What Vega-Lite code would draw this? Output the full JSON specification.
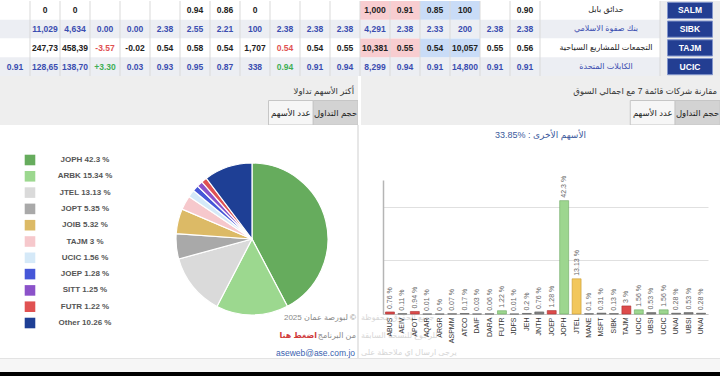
{
  "$schema": "https://vega.github.io/schema/vega-lite/v6.json",
  "padding": 0,
  "background": "#ffffff",
  "spacing": 0,
  "bounds": "flush",
  "resolve": {"scale": {"color": "independent", "fill": "independent", "stroke": "independent", "x": "independent", "y": "independent"}},
  "config": {"view": {"stroke": null}, "font": "Liberation Sans, DejaVu Sans"},
  "datasets": {
    "stocks": [
      {"r": 1, "code": "SALM", "name": "حدائق بابل", "tone": "plain"},
      {"r": 2, "code": "SIBK", "name": "بنك صفوة الاسلامي", "tone": "alt"},
      {"r": 3, "code": "TAJM", "name": "التجمعات للمشاريع السياحية", "tone": "plain"},
      {"r": 4, "code": "UCIC", "name": "الكابلات المتحدة", "tone": "alt"}
    ],
    "cells": [
      {"r": 1, "c": 1, "v": "0", "tone": "plain"},
      {"r": 1, "c": 2, "v": "0", "tone": "plain"},
      {"r": 1, "c": 6, "v": "0.94", "tone": "plain"},
      {"r": 1, "c": 7, "v": "0.86", "tone": "plain"},
      {"r": 1, "c": 8, "v": "0", "tone": "plain"},
      {"r": 1, "c": 12, "v": "1,000", "tone": "plain", "bg": "bid"},
      {"r": 1, "c": 13, "v": "0.91", "tone": "plain", "bg": "bid"},
      {"r": 1, "c": 14, "v": "0.85", "tone": "plain", "bg": "ask"},
      {"r": 1, "c": 15, "v": "100", "tone": "plain", "bg": "ask"},
      {"r": 1, "c": 17, "v": "0.90", "tone": "plain"},
      {"r": 2, "c": 1, "v": "11,029", "tone": "alt"},
      {"r": 2, "c": 2, "v": "4,634", "tone": "alt"},
      {"r": 2, "c": 3, "v": "0.00", "tone": "alt"},
      {"r": 2, "c": 4, "v": "0.00", "tone": "alt"},
      {"r": 2, "c": 5, "v": "2.38", "tone": "alt"},
      {"r": 2, "c": 6, "v": "2.55", "tone": "alt"},
      {"r": 2, "c": 7, "v": "2.21", "tone": "alt"},
      {"r": 2, "c": 8, "v": "100", "tone": "alt"},
      {"r": 2, "c": 9, "v": "2.38", "tone": "alt"},
      {"r": 2, "c": 10, "v": "2.38", "tone": "alt"},
      {"r": 2, "c": 11, "v": "2.38", "tone": "alt"},
      {"r": 2, "c": 12, "v": "4,291", "tone": "alt"},
      {"r": 2, "c": 13, "v": "2.38", "tone": "alt"},
      {"r": 2, "c": 14, "v": "2.33", "tone": "alt"},
      {"r": 2, "c": 15, "v": "200", "tone": "alt"},
      {"r": 2, "c": 16, "v": "2.38", "tone": "alt"},
      {"r": 2, "c": 17, "v": "2.38", "tone": "alt"},
      {"r": 3, "c": 1, "v": "247,73", "tone": "plain"},
      {"r": 3, "c": 2, "v": "458,39", "tone": "plain"},
      {"r": 3, "c": 3, "v": "-3.57", "tone": "down"},
      {"r": 3, "c": 4, "v": "-0.02", "tone": "plain"},
      {"r": 3, "c": 5, "v": "0.54", "tone": "plain"},
      {"r": 3, "c": 6, "v": "0.58", "tone": "plain"},
      {"r": 3, "c": 7, "v": "0.54", "tone": "plain"},
      {"r": 3, "c": 8, "v": "1,707", "tone": "plain"},
      {"r": 3, "c": 9, "v": "0.54", "tone": "down"},
      {"r": 3, "c": 10, "v": "0.54", "tone": "plain"},
      {"r": 3, "c": 11, "v": "0.55", "tone": "plain"},
      {"r": 3, "c": 12, "v": "10,381", "tone": "plain", "bg": "bid"},
      {"r": 3, "c": 13, "v": "0.55", "tone": "plain", "bg": "bid"},
      {"r": 3, "c": 14, "v": "0.54", "tone": "plain", "bg": "ask"},
      {"r": 3, "c": 15, "v": "10,057", "tone": "plain", "bg": "ask"},
      {"r": 3, "c": 16, "v": "0.55", "tone": "plain"},
      {"r": 3, "c": 17, "v": "0.56", "tone": "plain"},
      {"r": 4, "c": 0, "v": "0.91", "tone": "alt"},
      {"r": 4, "c": 1, "v": "128,65", "tone": "alt"},
      {"r": 4, "c": 2, "v": "138,70", "tone": "alt"},
      {"r": 4, "c": 3, "v": "+3.30", "tone": "up"},
      {"r": 4, "c": 4, "v": "0.03", "tone": "alt"},
      {"r": 4, "c": 5, "v": "0.93", "tone": "alt"},
      {"r": 4, "c": 6, "v": "0.95", "tone": "alt"},
      {"r": 4, "c": 7, "v": "0.87", "tone": "alt"},
      {"r": 4, "c": 8, "v": "338", "tone": "alt"},
      {"r": 4, "c": 9, "v": "0.94", "tone": "up"},
      {"r": 4, "c": 10, "v": "0.91", "tone": "alt"},
      {"r": 4, "c": 11, "v": "0.94", "tone": "alt"},
      {"r": 4, "c": 12, "v": "8,299", "tone": "alt"},
      {"r": 4, "c": 13, "v": "0.94", "tone": "alt"},
      {"r": 4, "c": 14, "v": "0.91", "tone": "alt"},
      {"r": 4, "c": 15, "v": "14,800", "tone": "alt"},
      {"r": 4, "c": 16, "v": "0.91", "tone": "alt"},
      {"r": 4, "c": 17, "v": "0.91", "tone": "alt"}
    ],
    "pie": [
      {"code": "JOPH", "pct": 42.3, "rank": 1},
      {"code": "ARBK", "pct": 15.34, "rank": 2},
      {"code": "JTEL", "pct": 13.13, "rank": 3},
      {"code": "JOPT", "pct": 5.35, "rank": 4},
      {"code": "JOIB", "pct": 5.32, "rank": 5},
      {"code": "TAJM", "pct": 3, "rank": 6},
      {"code": "UCIC", "pct": 1.56, "rank": 7},
      {"code": "JOEP", "pct": 1.28, "rank": 8},
      {"code": "SITT", "pct": 1.25, "rank": 9},
      {"code": "FUTR", "pct": 1.22, "rank": 10},
      {"code": "Other", "pct": 10.26, "rank": 11}
    ],
    "bars": [
      {"key": "ABUS", "pct": 0.76, "move": "down"},
      {"key": "AEIV", "pct": 0.11, "move": "none"},
      {"key": "APOT", "pct": 0.94, "move": "down"},
      {"key": "AQAR", "pct": 0.01, "move": "none"},
      {"key": "ARGR", "pct": 0, "move": "none"},
      {"key": "ASPMM", "pct": 0.07, "move": "none"},
      {"key": "ATCO", "pct": 0.17, "move": "none"},
      {"key": "DAIF", "pct": 0.03, "move": "none"},
      {"key": "DARA", "pct": 0.06, "move": "none"},
      {"key": "FUTR", "pct": 1.22, "move": "up"},
      {"key": "JDFS", "pct": 0.01, "move": "none"},
      {"key": "JEH", "pct": 0.2, "move": "none"},
      {"key": "JNTH", "pct": 0.76, "move": "none"},
      {"key": "JOEP", "pct": 1.28, "move": "down"},
      {"key": "JOPH", "pct": 42.3, "move": "up"},
      {"key": "JTEL", "pct": 13.13, "move": "flat"},
      {"key": "MANE", "pct": 0.1, "move": "none"},
      {"key": "MSFT", "pct": 0.31, "move": "none"},
      {"key": "SIBK", "pct": 0.13, "move": "none"},
      {"key": "TAJM", "pct": 3, "move": "down"},
      {"key": "UCIC", "pct": 1.56, "move": "up"},
      {"key": "UBSI", "pct": 0.53, "move": "none"},
      {"key": "UCIC|2", "pct": 1.56, "move": "up"},
      {"key": "UNAI", "pct": 0.28, "move": "none"},
      {"key": "UBSI|2", "pct": 0.53, "move": "none"},
      {"key": "UNAI|2", "pct": 0.28, "move": "none"}
    ],
    "footer": [
      {"line": 1, "part": "muted", "t": "2025 لبورصة عمان ©"},
      {"line": 1, "part": "faded", "t": "جميع الحقوق محفوظة"},
      {"line": 2, "part": "muted", "t": "من البرنامج"},
      {"line": 2, "part": "link", "t": "اضغط هنا"},
      {"line": 2, "part": "faded", "t": "للرجوع للنسخة السابقة"},
      {"line": 3, "part": "mail", "t": "aseweb@ase.com.jo"},
      {"line": 3, "part": "faded", "t": "يرجى ارسال اي ملاحظة على"}
    ]
  },
  "vconcat": [
    {
      "width": 720,
      "height": 75,
      "view": {"fill": "#ffffff", "stroke": null},
      "layer": [
        {
          "data": {"name": "stocks"},
          "mark": {"type": "rect", "clip": true},
          "encoding": {
            "y": {"field": "r", "type": "ordinal", "scale": {"domain": [1, 2, 3, 4], "paddingInner": 0, "paddingOuter": 0}, "axis": null},
            "fill": {"field": "tone", "type": "nominal", "scale": {"domain": ["plain", "alt", "bid", "ask"], "range": ["#ffffff", "#eceef3", "#f8cdd0", "#c9dcf7"]}, "legend": null}
          }
        },
        {
          "data": {"values": [{"c": 22}, {"c": 23}]},
          "mark": {"type": "rect", "fill": "#ededed", "clip": true},
          "encoding": {
            "x": {"field": "c", "type": "ordinal", "scale": {"domain": [0,1,2,3,4,5,6,7,8,9,10,11,12,13,14,15,16,17,18,19,20,21,22,23], "paddingInner": 0, "paddingOuter": 0}, "axis": null}
          }
        },
        {
          "data": {"name": "cells"},
          "transform": [{"filter": "datum.bg"}],
          "mark": {"type": "rect", "clip": true},
          "encoding": {
            "x": {"field": "c", "type": "ordinal"},
            "y": {"field": "r", "type": "ordinal"},
            "fill": {"field": "bg", "type": "nominal", "scale": {"domain": ["plain", "alt", "bid", "ask"], "range": ["#ffffff", "#eceef3", "#f8cdd0", "#c9dcf7"]}, "legend": null}
          }
        },
        {
          "data": {"values": [{"c": 1},{"c": 2},{"c": 3},{"c": 4},{"c": 5},{"c": 6},{"c": 7},{"c": 8},{"c": 9},{"c": 10},{"c": 11},{"c": 12},{"c": 13},{"c": 14},{"c": 15},{"c": 16},{"c": 17},{"c": 18},{"c": 22}]},
          "mark": {"type": "rule", "color": "#d9d9d9", "strokeWidth": 1, "clip": true},
          "encoding": {"x": {"field": "c", "type": "ordinal", "bandPosition": 0}}
        },
        {
          "data": {"name": "cells"},
          "mark": {"type": "text", "fontSize": 8.5, "fontWeight": "bold"},
          "encoding": {
            "x": {"field": "c", "type": "ordinal"},
            "y": {"field": "r", "type": "ordinal"},
            "text": {"field": "v"},
            "color": {"field": "tone", "type": "nominal", "scale": {"domain": ["plain", "alt", "down", "up"], "range": ["#222222", "#3a4db0", "#e05252", "#3fae55"]}, "legend": null}
          }
        },
        {
          "data": {"name": "stocks"},
          "mark": {"type": "text", "fontSize": 8, "dx": 6},
          "encoding": {
            "x": {"datum": 20, "type": "ordinal", "bandPosition": 0},
            "y": {"field": "r", "type": "ordinal"},
            "text": {"field": "name"},
            "color": {"field": "tone", "type": "nominal", "legend": null}
          }
        },
        {
          "data": {"name": "stocks"},
          "mark": {"type": "point", "shape": "M-1,-0.36H1V0.36H-1Z", "size": 2025, "filled": true, "fill": "#233e92", "stroke": "#8396cc", "strokeWidth": 1, "opacity": 1},
          "encoding": {
            "x": {"datum": 23, "type": "ordinal", "bandPosition": 0},
            "y": {"field": "r", "type": "ordinal"}
          }
        },
        {
          "data": {"name": "stocks"},
          "mark": {"type": "text", "fontSize": 8.5, "fontWeight": "bold", "color": "#ffffff"},
          "encoding": {
            "x": {"datum": 23, "type": "ordinal", "bandPosition": 0},
            "y": {"field": "r", "type": "ordinal"},
            "text": {"field": "code"}
          }
        }
      ]
    },
    {
      "hconcat": [
        {
          "width": 358,
          "height": 49,
          "view": {"fill": "#eeeeee", "stroke": null},
          "layer": [
            {
              "data": {"values": [{"row": "title", "t": "أكثر الأسهم تداولا"}]},
              "mark": {"type": "text", "align": "right", "dx": -4, "dy": 3, "fontSize": 8.5, "color": "#333333"},
              "encoding": {
                "x": {"value": "width"},
                "y": {"field": "row", "type": "nominal", "scale": {"domain": ["title", "tabs"], "paddingInner": 0, "paddingOuter": 0}, "axis": null},
                "text": {"field": "t"}
              }
            },
            {
              "data": {"values": [{"row": "tabs", "tab": "عدد الأسهم", "state": "idle"}, {"row": "tabs", "tab": "حجم التداول", "state": "active"}]},
              "layer": [
                {
                  "mark": {"type": "rect", "stroke": "#c6c6c6", "strokeWidth": 1, "clip": true},
                  "encoding": {
                    "x": {"field": "tab", "type": "nominal", "scale": {"domain": ["s1", "s2", "s3", "s4", "s5", "s6", "عدد الأسهم", "حجم التداول"], "paddingInner": 0, "paddingOuter": 0}, "axis": null},
                    "y": {"field": "row", "type": "nominal"},
                    "fill": {"field": "state", "type": "nominal", "scale": {"domain": ["idle", "active"], "range": ["#f6f6f6", "#d3d3d3"]}, "legend": null}
                  }
                },
                {
                  "mark": {"type": "text", "fontSize": 8.5, "color": "#222222"},
                  "encoding": {
                    "x": {"field": "tab", "type": "nominal"},
                    "y": {"field": "row", "type": "nominal"},
                    "text": {"field": "tab"}
                  }
                }
              ]
            }
          ]
        },
        {
          "width": 359,
          "height": 49,
          "view": {"fill": "#eeeeee", "stroke": null},
          "layer": [
            {
              "data": {"values": [{"row": "title", "t": "مقارنة شركات قائمة 7 مع اجمالي السوق"}]},
              "mark": {"type": "text", "align": "right", "dx": -3, "dy": 3, "fontSize": 8.5, "color": "#333333"},
              "encoding": {
                "x": {"value": "width"},
                "y": {"field": "row", "type": "nominal", "scale": {"domain": ["title", "tabs"], "paddingInner": 0, "paddingOuter": 0}, "axis": null},
                "text": {"field": "t"}
              }
            },
            {
              "data": {"values": [{"row": "tabs", "tab": "عدد الأسهم", "state": "idle"}, {"row": "tabs", "tab": "حجم التداول", "state": "active"}]},
              "layer": [
                {
                  "mark": {"type": "rect", "stroke": "#c6c6c6", "strokeWidth": 1, "clip": true},
                  "encoding": {
                    "x": {"field": "tab", "type": "nominal", "scale": {"domain": ["s1", "s2", "s3", "s4", "s5", "s6", "عدد الأسهم", "حجم التداول"], "paddingInner": 0, "paddingOuter": 0}, "axis": null},
                    "y": {"field": "row", "type": "nominal"},
                    "fill": {"field": "state", "type": "nominal", "scale": {"domain": ["idle", "active"], "range": ["#f6f6f6", "#d3d3d3"]}, "legend": null}
                  }
                },
                {
                  "mark": {"type": "text", "fontSize": 8.5, "color": "#222222"},
                  "encoding": {
                    "x": {"field": "tab", "type": "nominal"},
                    "y": {"field": "row", "type": "nominal"},
                    "text": {"field": "tab"}
                  }
                }
              ]
            }
          ]
        }
      ],
      "spacing": 3,
      "bounds": "flush",
      "resolve": {"scale": {"color": "independent", "fill": "independent", "stroke": "independent", "x": "independent", "y": "independent"}}
    },
    {
      "width": 720,
      "height": 49,
      "data": {"values": [{}]},
      "mark": {"type": "text"},
      "encoding": {"text": {"value": ""}}
    },
    {
      "hconcat": [
        {
          "width": 121,
          "height": 233,
          "data": {"name": "pie"},
          "layer": [
            {
              "mark": {"type": "point", "shape": "square", "filled": true, "size": 112, "opacity": 1},
              "encoding": {
                "x": {"datum": "sw", "type": "nominal", "scale": {"type": "point", "domain": ["sw", "lb"], "padding": 0.6, "align": 0.4545, "round": false}, "axis": null},
                "y": {"field": "rank", "type": "quantitative", "scale": {"domain": [-1.147, 13.147], "reverse": true, "zero": false, "nice": false}, "axis": null},
                "color": {"field": "code", "type": "nominal", "scale": {"domain": ["JOPH","ARBK","JTEL","JOPT","JOIB","TAJM","UCIC","JOEP","SITT","FUTR","Other"], "range": ["#66ac5d","#9cd88f","#dadada","#a9a9a9","#dcba66","#f6c8cc","#d5e9f8","#4657d8","#8b52c9","#e05252","#1e3f95"]}, "legend": null}
              }
            },
            {
              "mark": {"type": "text", "fontSize": 8, "fontWeight": "bold", "color": "#555555", "text": {"expr": "datum.code + ' ' + datum.pct + ' %'"}},
              "encoding": {
                "x": {"datum": "lb", "type": "nominal"},
                "y": {"field": "rank", "type": "quantitative"}
              }
            }
          ]
        },
        {
          "width": 212,
          "height": 228,
          "layer": [
            {
              "data": {"name": "pie"},
              "mark": {"type": "arc", "radius": 76, "stroke": "#ffffff", "strokeWidth": 1.2},
              "encoding": {
                "theta": {"field": "pct", "type": "quantitative", "stack": true},
                "order": {"field": "rank", "type": "quantitative"},
                "color": {"field": "code", "type": "nominal", "scale": {"domain": ["JOPH","ARBK","JTEL","JOPT","JOIB","TAJM","UCIC","JOEP","SITT","FUTR","Other"], "range": ["#66ac5d","#9cd88f","#dadada","#a9a9a9","#dcba66","#f6c8cc","#d5e9f8","#4657d8","#8b52c9","#e05252","#1e3f95"]}, "legend": null}
              }
            },
            {
              "data": {"values": [{"edge": "panel"}]},
              "mark": {"type": "rule", "color": "#cfcfcf", "strokeWidth": 1, "y2Offset": 5},
              "encoding": {"x": {"value": "width"}, "y": {"value": 0}, "y2": {"value": "height"}}
            },
            {
              "data": {"name": "footer"},
              "transform": [{"filter": "datum.part == 'faded'"}],
              "mark": {"type": "text", "align": "left", "dx": 3, "fontSize": 8, "color": "#d6d6d6"},
              "encoding": {
                "x": {"value": "width"},
                "y": {"field": "line", "type": "quantitative", "scale": {"domain": [-10.03, 3], "reverse": true, "zero": false, "nice": false}, "axis": null},
                "text": {"field": "t"}
              }
            },
            {
              "data": {"name": "footer"},
              "transform": [{"filter": "datum.part == 'muted'"}],
              "mark": {"type": "text", "align": "right", "dx": -2, "fontSize": 8, "color": "#8a8a8a"},
              "encoding": {
                "x": {"value": "width"},
                "y": {"field": "line", "type": "quantitative"},
                "text": {"field": "t"}
              }
            },
            {
              "data": {"name": "footer"},
              "transform": [{"filter": "datum.part == 'link'"}],
              "mark": {"type": "text", "align": "right", "dx": -41, "fontSize": 8, "fontWeight": "bold", "color": "#d03a3a"},
              "encoding": {
                "x": {"value": "width"},
                "y": {"field": "line", "type": "quantitative"},
                "text": {"field": "t"}
              }
            },
            {
              "data": {"name": "footer"},
              "transform": [{"filter": "datum.part == 'mail'"}],
              "mark": {"type": "text", "align": "right", "dx": -3, "fontSize": 8.5, "color": "#3a5fb0"},
              "encoding": {
                "x": {"value": "width"},
                "y": {"field": "line", "type": "quantitative"},
                "text": {"field": "t"}
              }
            }
          ]
        },
        {
          "vconcat": [
            {
              "width": 325,
              "height": 55,
              "data": {"values": [{}]},
              "mark": {"type": "text"},
              "encoding": {"text": {"value": ""}}
            },
            {
              "width": 325,
              "height": 134,
              "title": {"text": "33.85% : الأسهم الأخرى", "fontSize": 9, "fontWeight": "normal", "color": "#3d5a9c", "offset": 36, "dx": -5},
              "data": {"name": "bars"},
              "encoding": {
                "x": {
                  "field": "key", "type": "nominal", "sort": null,
                  "scale": {"paddingInner": 0.28, "paddingOuter": 0.2},
                  "axis": {"title": null, "labelAngle": -90, "labelFontSize": 7, "labelColor": "#333333", "ticks": false, "domainColor": "#c4c4c4", "labelPadding": 3, "labelExpr": "split(datum.label, '|')[0]"}
                }
              },
              "layer": [
                {
                  "mark": {"type": "bar", "strokeWidth": 0.6},
                  "encoding": {
                    "y": {"field": "pct", "type": "quantitative", "scale": {"domain": [0, 50]}, "axis": {"title": null, "labels": false, "ticks": false, "values": [0, 10, 20, 30, 40, 50], "gridColor": "#e0e0e0", "domainColor": "#b5b5b5", "domainWidth": 1.5}},
                    "fill": {"field": "move", "type": "nominal", "scale": {"domain": ["up", "down", "flat", "none"], "range": ["#9dd68f", "#dd4b4b", "#f2c75c", "#8a8a8a"]}, "legend": null},
                    "stroke": {"field": "move", "type": "nominal", "scale": {"domain": ["up", "down", "flat", "none"], "range": ["#6aa85f", "#a83232", "#c99a2e", "#555555"]}, "legend": null}
                  }
                },
                {
                  "mark": {"type": "text", "angle": 270, "align": "left", "baseline": "middle", "dx": 3, "fontSize": 7, "color": "#666666", "text": {"expr": "datum.pct + ' %'"}},
                  "encoding": {"y": {"field": "pct", "type": "quantitative"}}
                }
              ]
            }
          ],
          "spacing": 0,
          "bounds": "flush",
          "resolve": {"scale": {"color": "independent", "fill": "independent", "stroke": "independent", "x": "independent", "y": "independent"}}
        }
      ],
      "spacing": 25,
      "bounds": "flush",
      "resolve": {"scale": {"color": "independent", "fill": "independent", "stroke": "independent", "x": "independent", "y": "independent"}}
    },
    {
      "width": 720,
      "height": 233,
      "data": {"values": [{}]},
      "mark": {"type": "text"},
      "encoding": {"text": {"value": ""}}
    },
    {
      "width": 720,
      "height": 14,
      "data": {"values": [{}]},
      "layer": [
        {"mark": {"type": "rect", "color": "#f6f6f6"}, "encoding": {}},
        {"mark": {"type": "rule", "color": "#cfcfcf", "strokeWidth": 1, "clip": true}, "encoding": {"y": {"value": 0}}}
      ]
    },
    {
      "width": 720,
      "height": 5,
      "data": {"values": [{}]},
      "mark": {"type": "rect", "color": "#000000"},
      "encoding": {}
    }
  ]
}
